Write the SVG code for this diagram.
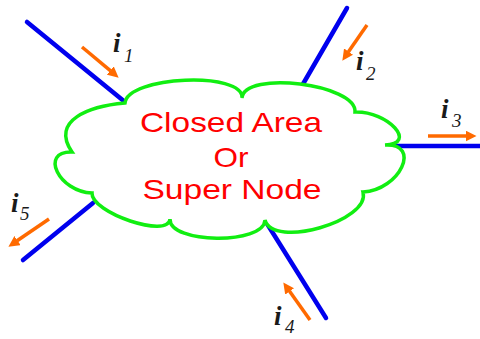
<svg xmlns="http://www.w3.org/2000/svg" width="480" height="339" viewBox="0 0 480 339">
  <style>
    .wire { stroke: #0000ee; stroke-width: 4.5; stroke-linecap: round; fill: none; }
    .cur { stroke: #ff6a00; stroke-width: 3.5; fill: none; marker-end: url(#ah); }
    .lbl { font-family: "Liberation Serif", "DejaVu Serif", serif; font-style: italic; fill: #1a1a1a; }
    .i { font-size: 27px; font-weight: bold; }
    .sub { font-size: 19px; }
    .ctext { font-family: "Liberation Sans", Arial, sans-serif; font-size: 28px; fill: #ff0000; }
  </style>
  <defs>
    <marker id="ah" markerUnits="userSpaceOnUse" markerWidth="11" markerHeight="11" viewBox="0 0 11 11" refX="0.5" refY="5.5" orient="auto">
      <path d="M0,0 L11,5.5 L0,11 z" fill="#ff6a00"/>
    </marker>
  </defs>
  <rect width="480" height="339" fill="#ffffff"/>

  <g id="connectors">
    <line class="wire" x1="27" y1="22" x2="125" y2="102"/>
    <line class="wire" x1="347" y1="8" x2="303" y2="84"/>
    <line class="wire" x1="385" y1="146" x2="482" y2="146"/>
    <line class="wire" x1="266" y1="222" x2="326" y2="318"/>
    <line class="wire" x1="93" y1="203" x2="23" y2="260"/>

    <line class="cur" x1="82" y1="47" x2="110.6" y2="70.9"/>
    <line class="cur" x1="367" y1="25" x2="348.3" y2="52"/>
    <line class="cur" x1="428" y1="136" x2="466" y2="136"/>
    <line class="cur" x1="310" y1="320" x2="289.4" y2="291"/>
    <line class="cur" x1="49" y1="219" x2="17.1" y2="240.8"/>
  </g>

  <g id="supernode">
    <path d="M125,103 C127,76 244,71 242,98 C244,70 357,84 355,112 C388,111 418,144 385,145 C422,143 400,190 363,192 C371,221 273,249 265,220 C264,245 169,244 170,219 C169,239 91,213 92,193 C59,192 39,151 72,152 C50,120 90,106 125,103 Z" fill="#ffffff" stroke="#11ee11" stroke-width="3.5" stroke-linejoin="miter"/>
    <text class="ctext" x="231" y="132" text-anchor="middle" textLength="182" lengthAdjust="spacingAndGlyphs">Closed Area</text>
    <text class="ctext" x="231" y="167" text-anchor="middle" textLength="35" lengthAdjust="spacingAndGlyphs">Or</text>
    <text class="ctext" x="232" y="199" text-anchor="middle" textLength="179" lengthAdjust="spacingAndGlyphs">Super Node</text>
  </g>

  <g id="label-i1" class="lbl"><text x="113" y="52" class="i">i</text><text x="124" y="62" class="sub">1</text></g>
  <g id="label-i2" class="lbl"><text x="356" y="70" class="i">i</text><text x="366" y="80" class="sub">2</text></g>
  <g id="label-i3" class="lbl"><text x="441" y="118" class="i">i</text><text x="452" y="127" class="sub">3</text></g>
  <g id="label-i4" class="lbl"><text x="274" y="325" class="i">i</text><text x="285" y="333" class="sub">4</text></g>
  <g id="label-i5" class="lbl"><text x="11" y="212" class="i">i</text><text x="20" y="220" class="sub">5</text></g>
</svg>
